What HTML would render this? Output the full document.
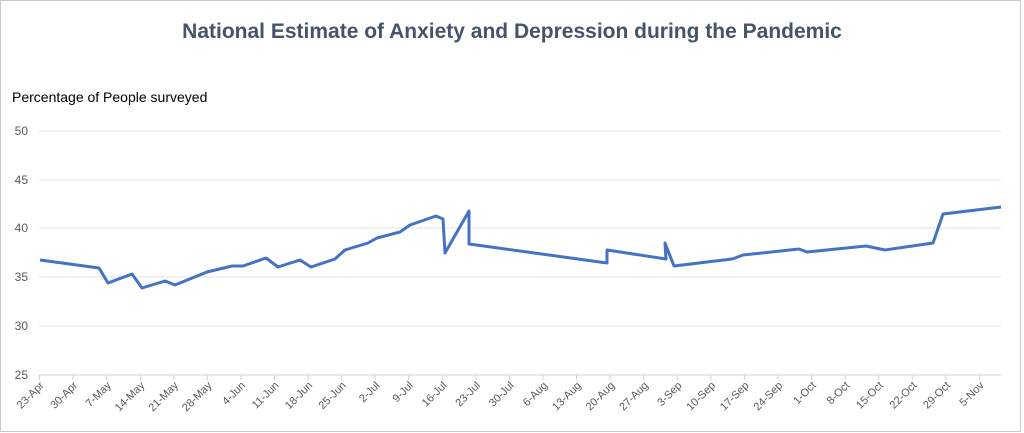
<!DOCTYPE html>
<html><head><meta charset="utf-8"><style>
body{margin:0;background:#fff;}
svg{display:block;font-family:"Liberation Sans",sans-serif;}
</style></head><body>
<svg width="1024" height="433" viewBox="0 0 1024 433">
<rect x="0.5" y="0.5" width="1020" height="431" fill="#fff" stroke="#c8c8c8"/>
<text x="512" y="38" text-anchor="middle" font-size="21" font-weight="bold" fill="#44546a">National Estimate of Anxiety and Depression during the Pandemic</text>
<text x="12" y="102" font-size="14" fill="#000">Percentage of People surveyed</text>
<g stroke="#e3e3e3" stroke-width="1">
<line x1="39" y1="131" x2="1001" y2="131"/>
<line x1="39" y1="180" x2="1001" y2="180"/>
<line x1="39" y1="228" x2="1001" y2="228"/>
<line x1="39" y1="277" x2="1001" y2="277"/>
<line x1="39" y1="326" x2="1001" y2="326"/>
</g>
<line x1="39" y1="375" x2="1001" y2="375" stroke="#d0d0d0"/>
<g font-size="12" fill="#595959" text-anchor="end">
<text x="28" y="135">50</text><text x="28" y="184">45</text><text x="28" y="232">40</text>
<text x="28" y="281">35</text><text x="28" y="330">30</text><text x="28" y="379">25</text>
</g>
<g id="ticks" stroke="#d0d0d0"></g>
<g id="labs" font-size="11" fill="#595959" text-anchor="end"></g>
<polyline fill="none" stroke="#4472c4" stroke-width="3" stroke-linejoin="round" points="40,260 99,268 108,283 132,274 142,288 165,281 175,285 207,272 232,266 243,266 266,258 278,267 300,260 311,267 335,259 345,250 368,243 377,238 400,232 410,225 436,216 443,219 445,253 469,211 469,244 607,263 607,250 666,259 665,243 674,266 732,259 735,258 743,255 799,249 807,252 866,246 885,250 933,243 943,214 1001,207"/>
</svg>
<script>
var labels=["23-Apr","30-Apr","7-May","14-May","21-May","28-May","4-Jun","11-Jun","18-Jun","25-Jun","2-Jul","9-Jul","16-Jul","23-Jul","30-Jul","6-Aug","13-Aug","20-Aug","27-Aug","3-Sep","10-Sep","17-Sep","24-Sep","1-Oct","8-Oct","15-Oct","22-Oct","29-Oct","5-Nov"];
var ns="http://www.w3.org/2000/svg",t=document.getElementById("ticks"),l=document.getElementById("labs");
labels.forEach(function(s,i){var x=39.5+i*33.57;
var ln=document.createElementNS(ns,"line");ln.setAttribute("x1",x);ln.setAttribute("x2",x);ln.setAttribute("y1",375);ln.setAttribute("y2",380);t.appendChild(ln);
var tx=document.createElementNS(ns,"text");tx.setAttribute("transform","translate("+(x+5)+",386) rotate(-45)");tx.textContent=s;l.appendChild(tx);});
</script>
</body></html>
